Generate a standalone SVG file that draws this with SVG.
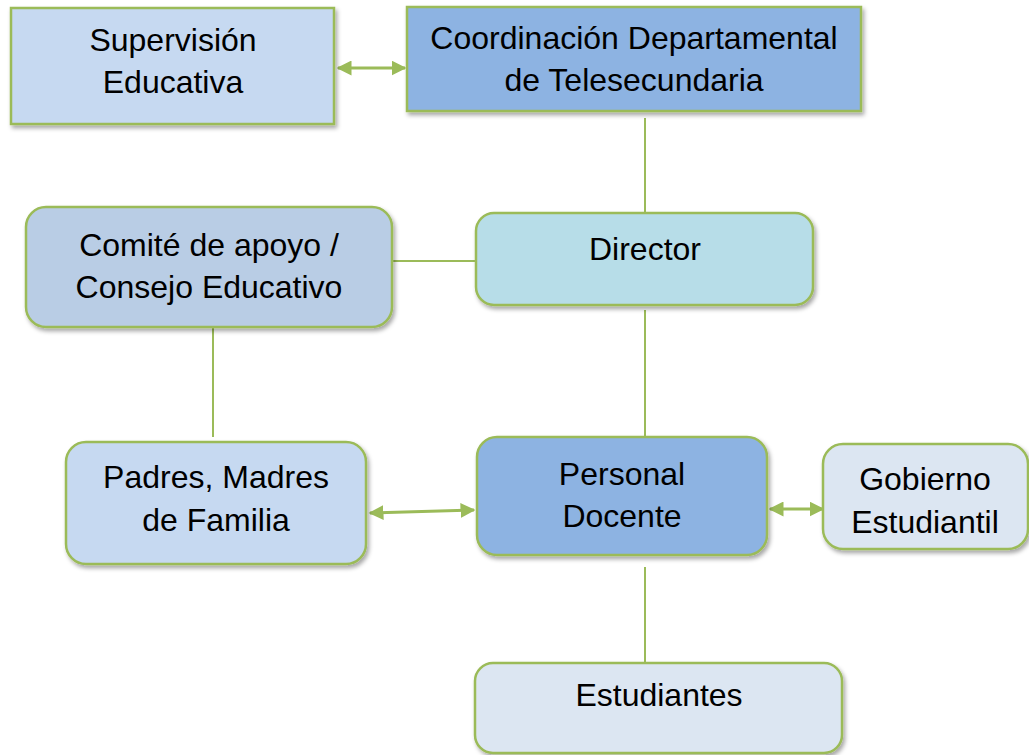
<svg xmlns="http://www.w3.org/2000/svg" width="1029" height="755" viewBox="0 0 1029 755">
<style>
.box{stroke:#9bbb59;stroke-width:2.5;filter:url(#sh)}
.t{font-family:"Liberation Sans",Arial,sans-serif;font-size:32px;fill:#000;text-anchor:middle}
.ln{stroke:#9bbb59;stroke-width:2;fill:none}
.ar{stroke:#9bbb59;stroke-width:3;fill:none;marker-start:url(#ah);marker-end:url(#ah)}
</style>
<defs>
<filter id="sh" x="-10%" y="-10%" width="125%" height="130%">
<feDropShadow dx="2" dy="3" stdDeviation="2" flood-color="#000" flood-opacity="0.35"/>
</filter>
<marker id="ah" viewBox="0 0 10 10" refX="9" refY="5" markerWidth="5" markerHeight="5" orient="auto-start-reverse" markerUnits="strokeWidth">
<path d="M0,0 L10,5 L0,10 Z" fill="#9bbb59"/>
</marker>
</defs>
<rect width="1029" height="755" fill="#fff"/>
<g id="connectors">
<line class="ln" x1="645" y1="118" x2="645" y2="213"/>
<line class="ln" x1="392" y1="261" x2="476" y2="261"/>
<line class="ln" x1="645" y1="310" x2="645" y2="437"/>
<line class="ln" x1="213" y1="327" x2="213" y2="437"/>
<line class="ln" x1="645" y1="567" x2="645" y2="663"/>
<line class="ar" x1="338" y1="68" x2="405" y2="68"/>
<line class="ar" x1="370" y1="513" x2="474" y2="510"/>
<line class="ar" x1="770" y1="509" x2="823" y2="509"/>
</g>
<g id="supervision">
<rect class="box" x="11" y="8" width="323" height="116" fill="#c6d9f1"/>
<text class="t" x="173" y="51">Supervisión</text>
<text class="t" x="173" y="93">Educativa</text>
</g>
<g id="coordinacion">
<rect class="box" x="407" y="7" width="454" height="104" fill="#8db3e2"/>
<text class="t" x="634" y="49">Coordinación Departamental</text>
<text class="t" x="634" y="91">de Telesecundaria</text>
</g>
<g id="comite">
<rect class="box" x="26" y="207" width="366" height="120" rx="20" fill="#b9cde5"/>
<text class="t" x="209" y="256">Comité de apoyo /</text>
<text class="t" x="209" y="298">Consejo Educativo</text>
</g>
<g id="director">
<rect class="box" x="476" y="213" width="337" height="92" rx="18" fill="#b7dde8"/>
<text class="t" x="645" y="260">Director</text>
</g>
<g id="padres">
<rect class="box" x="66" y="442" width="300" height="122" rx="20" fill="#c6d9f1"/>
<text class="t" x="216" y="488">Padres, Madres</text>
<text class="t" x="216" y="531">de Familia</text>
</g>
<g id="personal">
<rect class="box" x="477" y="437" width="290" height="118" rx="20" fill="#8db3e2"/>
<text class="t" x="622" y="485">Personal</text>
<text class="t" x="622" y="527">Docente</text>
</g>
<g id="gobierno">
<rect class="box" x="823" y="444" width="205" height="105" rx="20" fill="#dce6f2"/>
<text class="t" x="925" y="490">Gobierno</text>
<text class="t" x="925" y="533">Estudiantil</text>
</g>
<g id="estudiantes">
<rect class="box" x="475" y="663" width="367" height="90" rx="18" fill="#dce6f2"/>
<text class="t" x="659" y="706">Estudiantes</text>
</g>
</svg>
